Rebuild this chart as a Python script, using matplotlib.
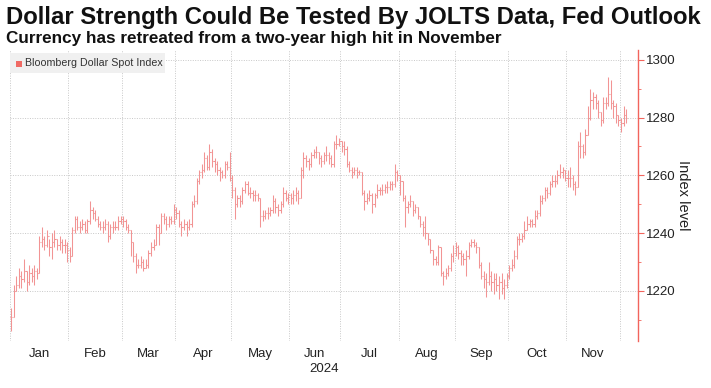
import numpy as np
import pandas as pd
import matplotlib
matplotlib.use("Agg")
from matplotlib import pyplot as plt
from matplotlib.patches import Rectangle

# --- Bloomberg Dollar Spot Index, daily bars (business days from 2024-01-01) ---
closes = [
    # Jan
    1211, 1220, 1222, 1225, 1224, 1227, 1223, 1226, 1225, 1227, 1226, 1237, 1238, 1236, 1239, 1235, 1237, 1238, 1236, 1237, 1236, 1236, 1234,
    # Feb
    1232, 1241, 1245, 1242, 1242, 1243, 1241, 1244, 1248, 1247, 1245, 1243, 1242, 1242, 1243, 1239, 1242, 1242, 1242, 1244, 1245,
    # Mar
    1244, 1242, 1241, 1237, 1232, 1229, 1229, 1230, 1228, 1229, 1233, 1235, 1236, 1242, 1240, 1246, 1245, 1243, 1245, 1244, 1248,
    # Apr
    1247, 1243, 1242, 1243, 1242, 1243, 1250, 1251, 1258, 1261, 1262, 1266, 1263, 1268, 1265, 1264, 1262, 1261, 1260, 1264, 1263, 1259,
    # May
    1255, 1250, 1252, 1251, 1255, 1257, 1254, 1254, 1253, 1253, 1252, 1246, 1246, 1247, 1247, 1248, 1251, 1249, 1248, 1250, 1254, 1252, 1253,
    # Jun
    1252, 1253, 1254, 1252, 1262, 1266, 1265, 1264, 1267, 1268, 1268, 1266, 1265, 1267, 1267, 1266, 1264, 1271, 1271, 1272,
    # Jul
    1270, 1269, 1264, 1262, 1261, 1262, 1261, 1261, 1254, 1251, 1252, 1253, 1250, 1253, 1255, 1255, 1255, 1256, 1256, 1257, 1257, 1261, 1260,
    # Aug
    1258, 1252, 1249, 1250, 1251, 1248, 1249, 1246, 1243, 1242, 1240, 1238, 1234, 1231, 1230, 1235, 1226, 1225, 1226, 1228, 1232, 1233,
    # Sep
    1235, 1233, 1232, 1231, 1232, 1236, 1237, 1236, 1235, 1229, 1225, 1224, 1223, 1225, 1223, 1224, 1222, 1223, 1221, 1222, 1225,
    # Oct
    1228, 1229, 1232, 1238, 1238, 1239, 1241, 1243, 1244, 1243, 1246, 1247, 1251, 1252, 1255, 1254, 1257, 1258, 1258, 1260, 1261, 1262, 1259,
    # Nov
    1259, 1259, 1257, 1256, 1270, 1270, 1268, 1274, 1280, 1286, 1287, 1285, 1282, 1279, 1285, 1285, 1288, 1285, 1284, 1281, 1279,
    # Dec
    1278, 1281, 1280,
]
highs = [
    1214, 1222, 1225, 1228, 1227, 1231, 1227, 1229, 1228, 1229, 1228, 1239, 1242, 1239, 1241, 1238, 1240, 1241, 1238, 1239, 1238, 1238, 1237,
    1235, 1242, 1246, 1246, 1244, 1245, 1244, 1245, 1251, 1249, 1248, 1246, 1244, 1244, 1245, 1244, 1243, 1244, 1244, 1246, 1246,
    1246, 1245, 1243, 1241, 1237, 1233, 1231, 1232, 1231, 1231, 1234, 1237, 1238, 1243, 1243, 1247, 1247, 1246, 1246, 1246, 1250,
    1249, 1248, 1244, 1245, 1244, 1245, 1251, 1253, 1259, 1262, 1264, 1268, 1267, 1271, 1269, 1266, 1265, 1263, 1262, 1265, 1265, 1268,
    1260, 1256, 1253, 1253, 1256, 1258, 1258, 1256, 1255, 1255, 1254, 1252, 1248, 1248, 1249, 1249, 1253, 1252, 1250, 1251, 1256, 1255, 1254,
    1254, 1255, 1256, 1255, 1263, 1268, 1267, 1266, 1268, 1269, 1270, 1268, 1267, 1268, 1270, 1268, 1267, 1272, 1274, 1273,
    1272, 1272, 1270, 1265, 1263, 1263, 1263, 1262, 1261, 1255, 1254, 1255, 1254, 1254, 1257, 1256, 1257, 1257, 1258, 1258, 1258, 1264, 1262,
    1260, 1258, 1253, 1251, 1253, 1251, 1250, 1249, 1246, 1244, 1246, 1240, 1238, 1234, 1232, 1236, 1235, 1227, 1228, 1229, 1233, 1236,
    1237, 1236, 1234, 1233, 1234, 1237, 1238, 1238, 1237, 1235, 1230, 1227, 1226, 1230, 1227, 1226, 1226, 1225, 1226, 1224, 1226,
    1229, 1231, 1234, 1239, 1240, 1240, 1244, 1246, 1245, 1245, 1248, 1248, 1253, 1253, 1256, 1256, 1258, 1260, 1260, 1262, 1264, 1263, 1262,
    1262, 1263, 1260, 1258, 1272, 1275, 1271, 1276, 1284, 1290, 1289, 1288, 1286, 1282, 1287, 1287, 1294, 1293, 1286, 1285, 1281,
    1280, 1284, 1283,
]
lows = [
    1206, 1211, 1220, 1221, 1221, 1223, 1220, 1222, 1223, 1222, 1224, 1226, 1235, 1234, 1235, 1232, 1231, 1235, 1234, 1234, 1233, 1233, 1230,
    1230, 1232, 1240, 1241, 1240, 1241, 1240, 1240, 1243, 1245, 1244, 1242, 1241, 1240, 1241, 1237, 1238, 1240, 1241, 1241, 1243,
    1242, 1241, 1240, 1232, 1230, 1226, 1228, 1228, 1227, 1228, 1228, 1232, 1234, 1236, 1236, 1240, 1243, 1241, 1242, 1243, 1243,
    1245, 1242, 1239, 1241, 1239, 1241, 1242, 1249, 1250, 1257, 1259, 1261, 1262, 1262, 1263, 1261, 1260, 1258, 1259, 1259, 1262, 1258,
    1252, 1245, 1249, 1249, 1250, 1254, 1253, 1252, 1251, 1251, 1251, 1242, 1244, 1245, 1245, 1246, 1247, 1247, 1246, 1247, 1249, 1251, 1250,
    1250, 1250, 1251, 1250, 1252, 1259, 1263, 1262, 1263, 1266, 1266, 1264, 1263, 1264, 1265, 1264, 1263, 1263, 1269, 1270,
    1268, 1267, 1263, 1261, 1259, 1260, 1259, 1260, 1253, 1248, 1250, 1251, 1247, 1249, 1252, 1253, 1253, 1254, 1254, 1255, 1255, 1256, 1258,
    1253, 1251, 1242, 1247, 1249, 1246, 1247, 1245, 1242, 1239, 1238, 1236, 1233, 1229, 1229, 1229, 1225, 1222, 1224, 1225, 1227, 1230,
    1232, 1231, 1229, 1229, 1225, 1231, 1235, 1235, 1233, 1228, 1224, 1221, 1218, 1222, 1220, 1219, 1220, 1217, 1219, 1217, 1221,
    1224, 1227, 1228, 1231, 1236, 1237, 1238, 1241, 1242, 1242, 1242, 1245, 1246, 1250, 1251, 1252, 1253, 1256, 1256, 1257, 1259, 1259, 1258,
    1256, 1256, 1255, 1253, 1256, 1266, 1266, 1267, 1274, 1279, 1283, 1283, 1280, 1277, 1278, 1283, 1284, 1283, 1280, 1278, 1277,
    1275, 1277, 1278,
]
assert len(closes) == len(highs) == len(lows)

month_labels = ["Jan", "Feb", "Mar", "Apr", "May", "Jun", "Jul", "Aug", "Sep", "Oct", "Nov"]
y_ticks = [1220, 1240, 1260, 1280, 1300]

# --- build frame ---
dates = pd.bdate_range("2024-01-01", periods=len(closes))
df = pd.DataFrame({"close": closes, "high": highs, "low": lows}, index=dates)
df["open"] = df["close"].shift(1).fillna(df["close"].iloc[0])
x = np.arange(len(df))

bar_color = "#f29494"
axis_red = "#f2645c"

plt.rcParams["font.family"] = ["Liberation Sans", "DejaVu Sans"]
fig = plt.figure(figsize=(7.11, 3.88), dpi=100)
ax = fig.add_axes([10 / 711, 1 - 341 / 388, 628 / 711, 291 / 388])

ax.vlines(x, df["low"], df["high"], color=bar_color, lw=0.75)
ax.hlines(df["open"], x - 0.45, x, color=bar_color, lw=0.75)
ax.hlines(df["close"], x, x + 0.45, color=bar_color, lw=0.75)

ax.set_xlim(-0.5, 246.7)
ax.set_ylim(1202.6, 1303.4)

# month boundaries (first business day of each month)
month_starts = [i for i in range(len(dates)) if i == 0 or dates[i].month != dates[i - 1].month]
bounds = [m - 0.5 for m in month_starts]
ax.set_xticks(bounds)
ax.set_xticklabels([])
ax.tick_params(axis="x", length=0)
centers = [(bounds[k] + bounds[k + 1]) / 2 for k in range(len(month_labels))]
ax.set_xticks(centers, minor=True)
ax.set_xticklabels(month_labels, minor=True, fontsize=9.5, color="#222222")
ax.tick_params(axis="x", which="minor", length=0, pad=5)
ax.text(0.5, -0.075, "2024", transform=ax.transAxes, ha="center", va="top", fontsize=9.5, color="#222222")

ax.yaxis.tick_right()
ax.yaxis.set_label_position("right")
ax.set_yticks(y_ticks)
ax.set_yticks([1210, 1230, 1250, 1270, 1290], minor=True)
ax.tick_params(axis="y", which="major", length=4, color=axis_red, labelsize=9.5, labelcolor="#222222", pad=2)
ax.tick_params(axis="y", which="minor", length=2.5, color=axis_red)
ax.set_ylabel("Index level", rotation=270, labelpad=10, fontsize=10.5, color="#222222")

ax.grid(True, which="major", color="#c8c8c8", linestyle=(0, (1, 1.5)), lw=0.7)
for side in ["top", "left", "bottom"]:
    ax.spines[side].set_visible(False)
ax.spines["right"].set_color(axis_red)
ax.spines["right"].set_linewidth(1.0)

# legend box
fig.patches.append(Rectangle((10 / 711, 1 - 73 / 388), 155 / 711, 20 / 388,
                             transform=fig.transFigure, facecolor="#f0f0f0", edgecolor="none"))
fig.patches.append(Rectangle((16 / 711, 1 - 67 / 388), 6 / 711, 6 / 388,
                             transform=fig.transFigure, facecolor="#f06a64", edgecolor="none"))
fig.text(25 / 711, 1 - 63.5 / 388, "Bloomberg Dollar Spot Index", fontsize=7.7, color="#333333", va="center")

fig.text(6 / 711, 1 - 6 / 388, "Dollar Strength Could Be Tested By JOLTS Data, Fed Outlook",
         fontsize=17.2, fontweight="bold", va="top", color="#111111")
fig.text(6 / 711, 1 - 31 / 388, "Currency has retreated from a two-year high hit in November",
         fontsize=12.3, fontweight="bold", va="top", color="#111111")

fig.savefig("out.png", dpi=100)
